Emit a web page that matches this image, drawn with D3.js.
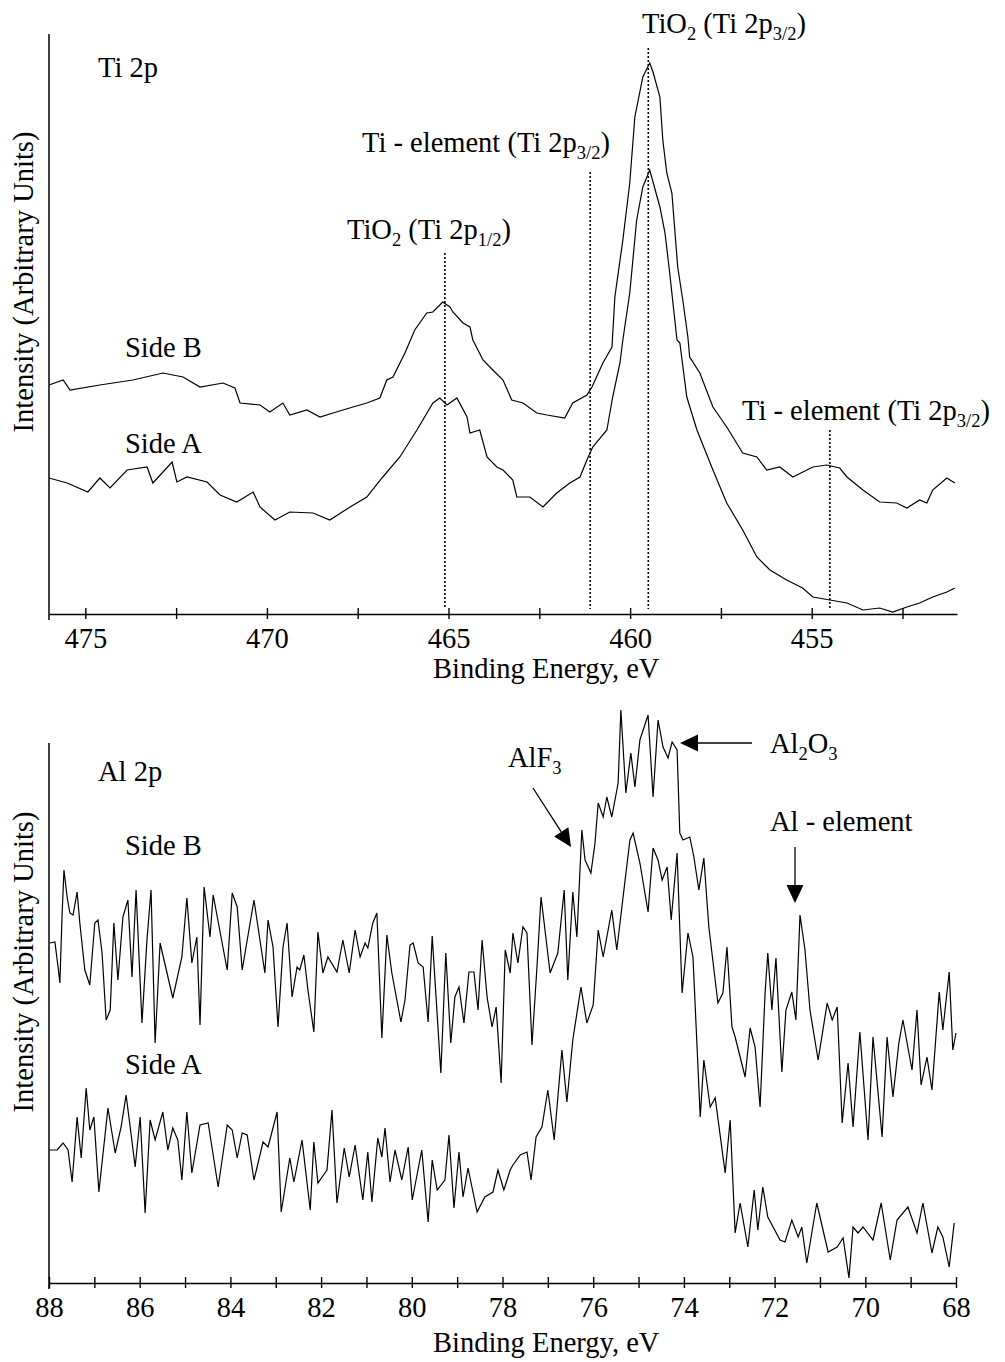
<!DOCTYPE html>
<html>
<head>
<meta charset="utf-8">
<script src="https://cdn.jsdelivr.net/npm/d3@7"></script>
<style>
  html, body { margin: 0; padding: 0; background: #fff; }
  svg text { font-family: "Liberation Serif", "Times New Roman", serif; fill: #000; }
</style>
</head>
<body>
<svg id="chart" width="1005" height="1362"></svg>
<script>
// ---------- Ti 2p spectra: [binding energy (eV), intensity (arb. units)] ----------
const tiSideB = [
  [476.00,229],[475.61,234],[475.42,224],[474.60,229],[473.69,234],[472.86,241],[472.31,237],
  [471.84,227],[471.21,231],[470.88,226],[470.74,211],[470.19,209],[469.92,202],[469.56,211],
  [469.37,199],[468.90,204],[468.54,197],[468.18,201],[467.63,207],[467.25,211],[466.89,216],
  [466.70,234],[466.53,237],[466.20,261],[465.93,284],[465.60,301],[465.43,302],[465.16,312],
  [464.96,307],[464.88,302],[464.60,291],[464.41,287],[464.33,274],[464.05,254],[463.78,244],
  [463.50,234],[463.26,214],[462.95,211],[462.57,201],[462.29,199],[461.80,196],[461.58,211],
  [461.19,219],[461.05,227],[460.75,251],[460.50,267],[460.42,317],[460.20,374],[460.01,431],
  [459.87,497],[459.65,537],[459.46,551],[459.37,542],[459.18,517],[459.10,474],[458.99,441],
  [458.85,421],[458.69,347],[458.55,314],[458.41,277],[458.36,257],[458.08,241],[457.72,207],
  [457.34,187],[456.90,161],[456.51,157],[456.24,144],[455.88,147],[455.52,137],[454.97,147],
  [454.59,149],[454.23,146],[454.03,137],[453.59,124],[453.13,112],[452.66,111],[452.38,106],
  [452.03,114],[451.83,111],[451.67,124],[451.28,136],[451.06,131]
];
const tiSideA = [
  [476.00,136],[475.50,131],[474.93,122],[474.60,136],[474.32,126],[473.85,144],[473.30,147],
  [473.14,131],[472.61,152],[472.48,132],[472.20,137],[471.65,132],[471.29,119],[470.83,112],
  [470.38,122],[470.19,107],[469.78,94],[469.37,102],[468.73,101],[468.27,94],[467.71,107],
  [467.25,117],[466.81,137],[466.34,157],[465.87,184],[465.43,211],[465.24,216],[465.04,209],
  [464.77,216],[464.49,197],[464.41,181],[464.14,184],[463.94,157],[463.67,147],[463.50,144],
  [463.23,134],[463.12,117],[462.76,117],[462.40,107],[462.02,121],[461.66,131],[461.38,137],
  [461.19,154],[461.03,167],[460.64,184],[460.48,217],[460.28,251],[460.20,274],[460.01,321],
  [459.82,394],[459.65,427],[459.46,444],[459.18,407],[459.04,381],[458.91,341],[458.71,274],
  [458.63,271],[458.44,217],[458.16,184],[457.72,144],[457.34,111],[456.90,84],[456.51,57],
  [456.15,44],[455.69,34],[455.25,26],[454.97,17],[454.50,14],[454.03,11],[453.59,4],
  [453.13,6],[452.77,2],[452.38,7],[452.03,11],[451.67,17],[451.28,22],[451.06,26]
];
const tiTicks = [475, 472.5, 470, 467.5, 465, 462.5, 460, 457.5, 455, 452.5];
const tiTickLabels = [475, 470, 465, 460, 455];
// reference binding energies of the marked Ti 2p components
const tiMarkers = [465.1, 461.1, 459.5, 454.5];

// ---------- Al 2p spectra: [binding energy (eV), intensity (arb. units)] ----------
const alSideB = [
  [87.98,340],[87.87,341],[87.80,316],[87.76,300],[87.71,370],[87.67,413],[87.60,386],[87.54,370],
  [87.47,368],[87.38,391],[87.32,360],[87.21,313],[87.10,298],[86.99,360],[86.92,363],[86.83,330],
  [86.74,263],[86.65,273],[86.57,360],[86.48,303],[86.37,366],[86.26,383],[86.17,306],[86.08,393],
  [85.95,260],[85.84,343],[85.75,393],[85.66,240],[85.55,340],[85.27,285],[85.07,326],[84.96,385],
  [84.85,320],[84.74,346],[84.67,258],[84.58,396],[84.45,346],[84.38,388],[84.07,313],[83.96,390],
  [83.85,376],[83.74,313],[83.48,383],[83.24,310],[83.17,363],[83.06,336],[82.95,256],[82.84,336],
  [82.75,360],[82.64,286],[82.53,316],[82.47,313],[82.38,328],[82.29,293],[82.16,251],[82.07,351],
  [81.96,310],[81.85,326],[81.65,311],[81.52,343],[81.38,310],[81.25,353],[81.14,326],[81.03,340],
  [80.97,335],[80.86,360],[80.77,370],[80.66,245],[80.55,348],[80.44,310],[80.24,261],[80.15,283],
  [80.04,338],[79.97,340],[79.86,320],[79.75,316],[79.64,261],[79.55,347],[79.36,210],[79.25,330],
  [79.14,240],[79.05,286],[78.96,296],[78.85,260],[78.74,311],[78.63,311],[78.54,273],[78.45,343],
  [78.34,286],[78.23,256],[78.14,276],[78.03,200],[77.94,333],[77.83,310],[77.77,350],[77.66,320],
  [77.55,356],[77.46,350],[77.35,238],[77.24,316],[77.15,386],[76.95,310],[76.78,330],[76.64,393],
  [76.56,303],[76.45,391],[76.36,346],[76.25,453],[76.18,423],[76.05,410],[75.96,440],[75.89,480],
  [75.78,466],[75.70,486],[75.59,466],[75.45,500],[75.39,573],[75.28,490],[75.17,530],[75.08,496],
  [74.97,543],[74.79,568],[74.68,486],[74.57,563],[74.46,536],[74.35,525],[74.26,541],[74.15,533],
  [74.09,450],[74.02,443],[73.87,446],[73.78,426],[73.67,393],[73.56,425],[73.45,356],[73.25,280],
  [73.14,290],[73.05,336],[72.94,256],[72.87,246],[72.65,206],[72.54,255],[72.43,236],[72.32,176],
  [72.21,290],[72.15,330],[72.06,273],[71.97,325],[71.84,211],[71.75,273],[71.62,291],[71.53,263],
  [71.44,368],[71.33,333],[71.22,273],[71.04,223],[70.84,280],[70.73,263],[70.62,276],[70.51,160],
  [70.38,220],[70.27,156],[70.12,251],[69.94,143],[69.83,246],[69.63,146],[69.52,246],[69.39,186],
  [69.26,240],[69.17,263],[68.97,213],[68.86,273],[68.77,198],[68.64,226],[68.53,193],[68.37,291],
  [68.29,253],[68.15,311],[68.07,233],[68.00,250]
];
const alSideA = [
  [87.98,133],[87.82,133],[87.69,140],[87.58,133],[87.49,101],[87.38,166],[87.29,125],[87.18,195],
  [87.10,153],[87.01,166],[86.90,91],[86.70,175],[86.54,130],[86.41,156],[86.30,188],[86.21,156],
  [86.10,116],[85.99,166],[85.88,70],[85.77,163],[85.66,143],[85.49,171],[85.38,133],[85.27,155],
  [85.16,143],[85.07,103],[84.96,171],[84.85,110],[84.67,158],[84.49,160],[84.27,96],[84.07,158],
  [83.96,153],[83.85,125],[83.74,150],[83.63,148],[83.48,103],[83.28,141],[83.17,136],[82.97,171],
  [82.88,71],[82.69,125],[82.60,101],[82.42,143],[82.24,73],[82.16,141],[82.07,100],[81.87,113],
  [81.76,173],[81.65,80],[81.49,135],[81.38,106],[81.25,138],[81.08,83],[80.97,131],[80.88,81],
  [80.75,145],[80.66,126],[80.59,155],[80.48,101],[80.37,133],[80.22,103],[80.08,136],[79.99,83],
  [79.78,133],[79.64,61],[79.55,123],[79.44,93],[79.27,103],[79.18,148],[79.07,75],[78.96,131],
  [78.87,86],[78.76,115],[78.56,71],[78.39,86],[78.21,91],[78.10,113],[77.97,93],[77.83,113],
  [77.77,118],[77.61,128],[77.46,131],[77.37,103],[77.26,146],[77.13,156],[77.00,193],[76.86,143],
  [76.69,233],[76.58,181],[76.45,243],[76.27,296],[76.14,260],[76.00,278],[75.89,353],[75.78,326],
  [75.59,373],[75.48,333],[75.37,375],[75.19,443],[75.12,450],[74.97,420],[74.79,371],[74.68,435],
  [74.57,423],[74.48,403],[74.37,416],[74.28,363],[74.15,430],[74.04,290],[73.91,350],[73.80,326],
  [73.64,166],[73.56,223],[73.42,176],[73.31,185],[73.09,110],[72.98,163],[72.87,50],[72.76,80],
  [72.59,36],[72.45,93],[72.37,53],[72.26,96],[72.15,66],[71.88,43],[71.77,41],[71.62,63],
  [71.48,46],[71.40,56],[71.29,20],[71.07,80],[70.82,31],[70.62,36],[70.49,45],[70.36,5],
  [70.27,56],[70.16,50],[70.05,56],[69.83,43],[69.65,80],[69.45,23],[69.30,63],[69.06,76],
  [68.86,50],[68.73,80],[68.53,30],[68.40,56],[68.29,46],[68.15,16],[68.04,60]
];
const alTicks = [88,87,86,85,84,83,82,81,80,79,78,77,76,75,74,73,72,71,70,69,68];
const alTickLabels = [88,86,84,82,80,78,76,74,72,70,68];

// ---------- drawing ----------
const svg = d3.select('#chart');
const FONT = 28.5;
const SUB = 18.5;

// text with optional subscript runs: parts = [[text, isSub], ...]
function richText(g, x, y, parts) {
  const t = g.append('text').attr('x', x).attr('y', y).style('font-size', FONT + 'px');
  let shifted = false;
  parts.forEach(([s, sub]) => {
    const ts = t.append('tspan').text(s);
    if (sub && !shifted) { ts.attr('dy', 7).style('font-size', SUB + 'px'); shifted = true; }
    else if (sub) { ts.style('font-size', SUB + 'px'); }
    else if (!sub && shifted) { ts.attr('dy', -7); shifted = false; }
  });
  return t;
}

function arrow(g, x1, y1, x2, y2) {
  const len = 18, half = 8.5;
  const dx = x2 - x1, dy = y2 - y1, L = Math.hypot(dx, dy);
  const ux = dx / L, uy = dy / L;
  const bx = x2 - ux * len, by = y2 - uy * len;
  g.append('line').attr('x1', x1).attr('y1', y1).attr('x2', bx).attr('y2', by)
    .attr('stroke', '#000').attr('stroke-width', 1.3);
  g.append('path')
    .attr('d', `M${x2},${y2}L${bx - uy * half},${by + ux * half}L${bx + uy * half},${by - ux * half}Z`)
    .attr('fill', '#000');
}

function panel(opt) {
  const g = svg.append('g');
  const x = d3.scaleLinear().domain(opt.xDomain).range([49, opt.right]);
  const y = d3.scaleLinear().domain([0, opt.yMax]).range([opt.axisY, opt.top]);

  // x axis with crossing ticks
  const axis = d3.axisBottom(x)
    .tickValues(opt.ticks)
    .tickFormat(d => opt.labels.includes(d) ? d3.format('d')(d) : '')
    .tickSizeOuter(0);
  const axg = g.append('g').attr('transform', `translate(0,${opt.axisY})`).call(axis);
  axg.attr('font-family', null).attr('font-size', null);
  axg.select('.domain').attr('stroke', '#000').attr('stroke-width', 1.5);
  axg.selectAll('.tick line').attr('y1', -6).attr('y2', 5).attr('stroke', '#000').attr('stroke-width', 1.4);
  axg.selectAll('.tick text').attr('y', 34).attr('dy', 0).style('font-size', FONT + 'px')
    .attr('fill', '#000');

  // y axis (no ticks: arbitrary units)
  g.append('line')
    .attr('x1', x.range()[0]).attr('x2', x.range()[0])
    .attr('y1', y(opt.yMax)).attr('y2', opt.axisY + 6)
    .attr('stroke', '#000').attr('stroke-width', 1.5);

  // spectra
  const line = d3.line().x(d => x(d[0])).y(d => y(d[1]));
  opt.series.forEach(s => {
    g.append('path').datum(s).attr('d', line)
      .attr('fill', 'none').attr('stroke', '#000').attr('stroke-width', 1.2)
      .attr('stroke-linejoin', 'miter');
  });

  // axis titles
  g.append('text').attr('x', 433).attr('y', opt.axisY + opt.titleGap)
    .style('font-size', FONT + 'px').text('Binding Energy, eV');
  g.append('text')
    .attr('transform', `translate(33,${opt.yTitleMid}) rotate(-90)`)
    .attr('text-anchor', 'middle')
    .style('font-size', FONT + 'px').text('Intensity (Arbitrary Units)');
  return { g, x, y };
}

// ----- Ti 2p panel -----
const ti = panel({
  xDomain: [476, 451], right: 957, yMax: 580, axisY: 614, top: 34,
  ticks: tiTicks, labels: tiTickLabels, series: [tiSideB, tiSideA],
  titleGap: 64, yTitleMid: 282
});
// dotted reference lines; top end given in intensity units
const tiMarkerTops = [361, 442, 566, 184];
tiMarkers.forEach((e, i) => {
  ti.g.append('line')
    .attr('x1', ti.x(e)).attr('x2', ti.x(e))
    .attr('y1', ti.y(tiMarkerTops[i])).attr('y2', ti.y(5))
    .attr('stroke', '#000').attr('stroke-width', 1.6).attr('stroke-dasharray', '2,2');
});
ti.g.append('text').attr('x', 98).attr('y', 77).style('font-size', FONT + 'px').text('Ti 2p');
ti.g.append('text').attr('x', 125).attr('y', 357).style('font-size', FONT + 'px').text('Side B');
ti.g.append('text').attr('x', 125).attr('y', 453).style('font-size', FONT + 'px').text('Side A');
richText(ti.g, 642, 33, [['TiO', 0], ['2', 1], [' (Ti 2p', 0], ['3/2', 1], [')', 0]]);
richText(ti.g, 362, 152, [['Ti - element (Ti 2p', 0], ['3/2', 1], [')', 0]]);
richText(ti.g, 347, 239, [['TiO', 0], ['2', 1], [' (Ti 2p', 0], ['1/2', 1], [')', 0]]);
richText(ti.g, 742, 420, [['Ti - element (Ti 2p', 0], ['3/2', 1], [')', 0]]);

// ----- Al 2p panel -----
const al = panel({
  xDomain: [88, 68], right: 956, yMax: 540, axisY: 1283, top: 743,
  ticks: alTicks, labels: alTickLabels, series: [alSideB, alSideA],
  titleGap: 69, yTitleMid: 962
});
al.g.append('text').attr('x', 98).attr('y', 781).style('font-size', FONT + 'px').text('Al 2p');
al.g.append('text').attr('x', 125).attr('y', 855).style('font-size', FONT + 'px').text('Side B');
al.g.append('text').attr('x', 125).attr('y', 1074).style('font-size', FONT + 'px').text('Side A');
richText(al.g, 508, 767, [['AlF', 0], ['3', 1]]);
richText(al.g, 770, 753, [['Al', 0], ['2', 1], ['O', 0], ['3', 1]]);
al.g.append('text').attr('x', 770).attr('y', 831).style('font-size', FONT + 'px').text('Al - element');
arrow(al.g, 533, 788, 571, 847);
arrow(al.g, 752, 743, 680, 743);
arrow(al.g, 795, 847, 795, 903);
</script>
</body>
</html>
